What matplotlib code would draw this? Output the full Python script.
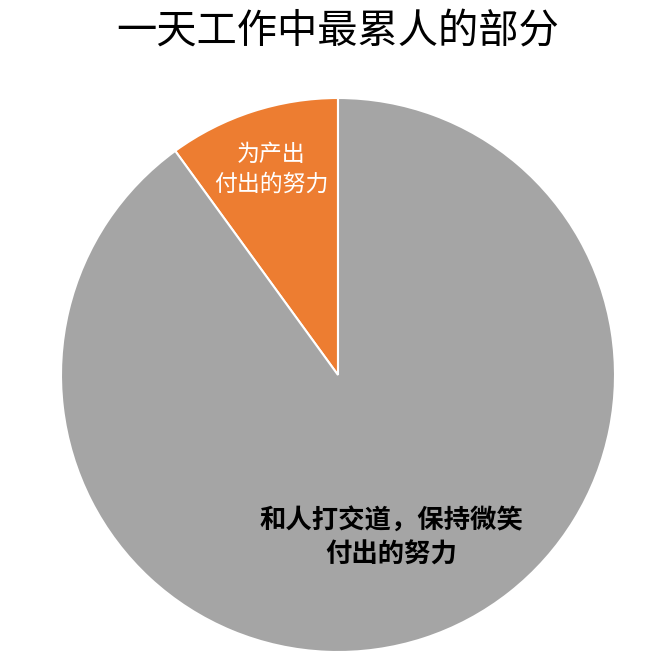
import matplotlib
matplotlib.use("Agg")
import matplotlib.pyplot as plt
import numpy as np

plt.rcParams['font.family'] = ['Noto Sans CJK SC', 'DejaVu Sans']

title = '一天工作中最累人的部分'
labels = ['为产出\n付出的努力', '和人打交道，保持微笑\n付出的努力']
shares = [10, 90]
colors = ['#ED7D31', '#A5A5A5']

fig = plt.figure(figsize=(6.69, 6.63), dpi=100)
ax = fig.add_axes([61 / 669, 11 / 663, 554 / 669, 554 / 663])

wedges, texts = ax.pie(shares, labels=labels, colors=colors, startangle=90,
                       counterclock=True, radius=1,
                       wedgeprops=dict(edgecolor='white', linewidth=1.5))
ax.set_xlim(-1, 1)
ax.set_ylim(-1, 1)
ax.set_aspect('equal')
ax.axis('off')

# put the labels inside their slices
dist = [0.78, 0.62]
styles = [dict(color='white', fontsize=16.5, fontweight='normal'),
          dict(color='black', fontsize=19, fontweight='bold')]
for w, t, d, st in zip(wedges, texts, dist, styles):
    mid = np.deg2rad((w.theta1 + w.theta2) / 2)
    t.set_position((d * np.cos(mid), d * np.sin(mid)))
    t.set_ha('center')
    t.set_va('center')
    t.set_multialignment('center')
    t.set_linespacing(1.35)
    t.set(**st)

fig.text(338 / 669, 1 - 32 / 663, title, ha='center', va='center',
         fontsize=29, fontweight='medium')

fig.savefig('out.png', dpi=100, facecolor='white')
